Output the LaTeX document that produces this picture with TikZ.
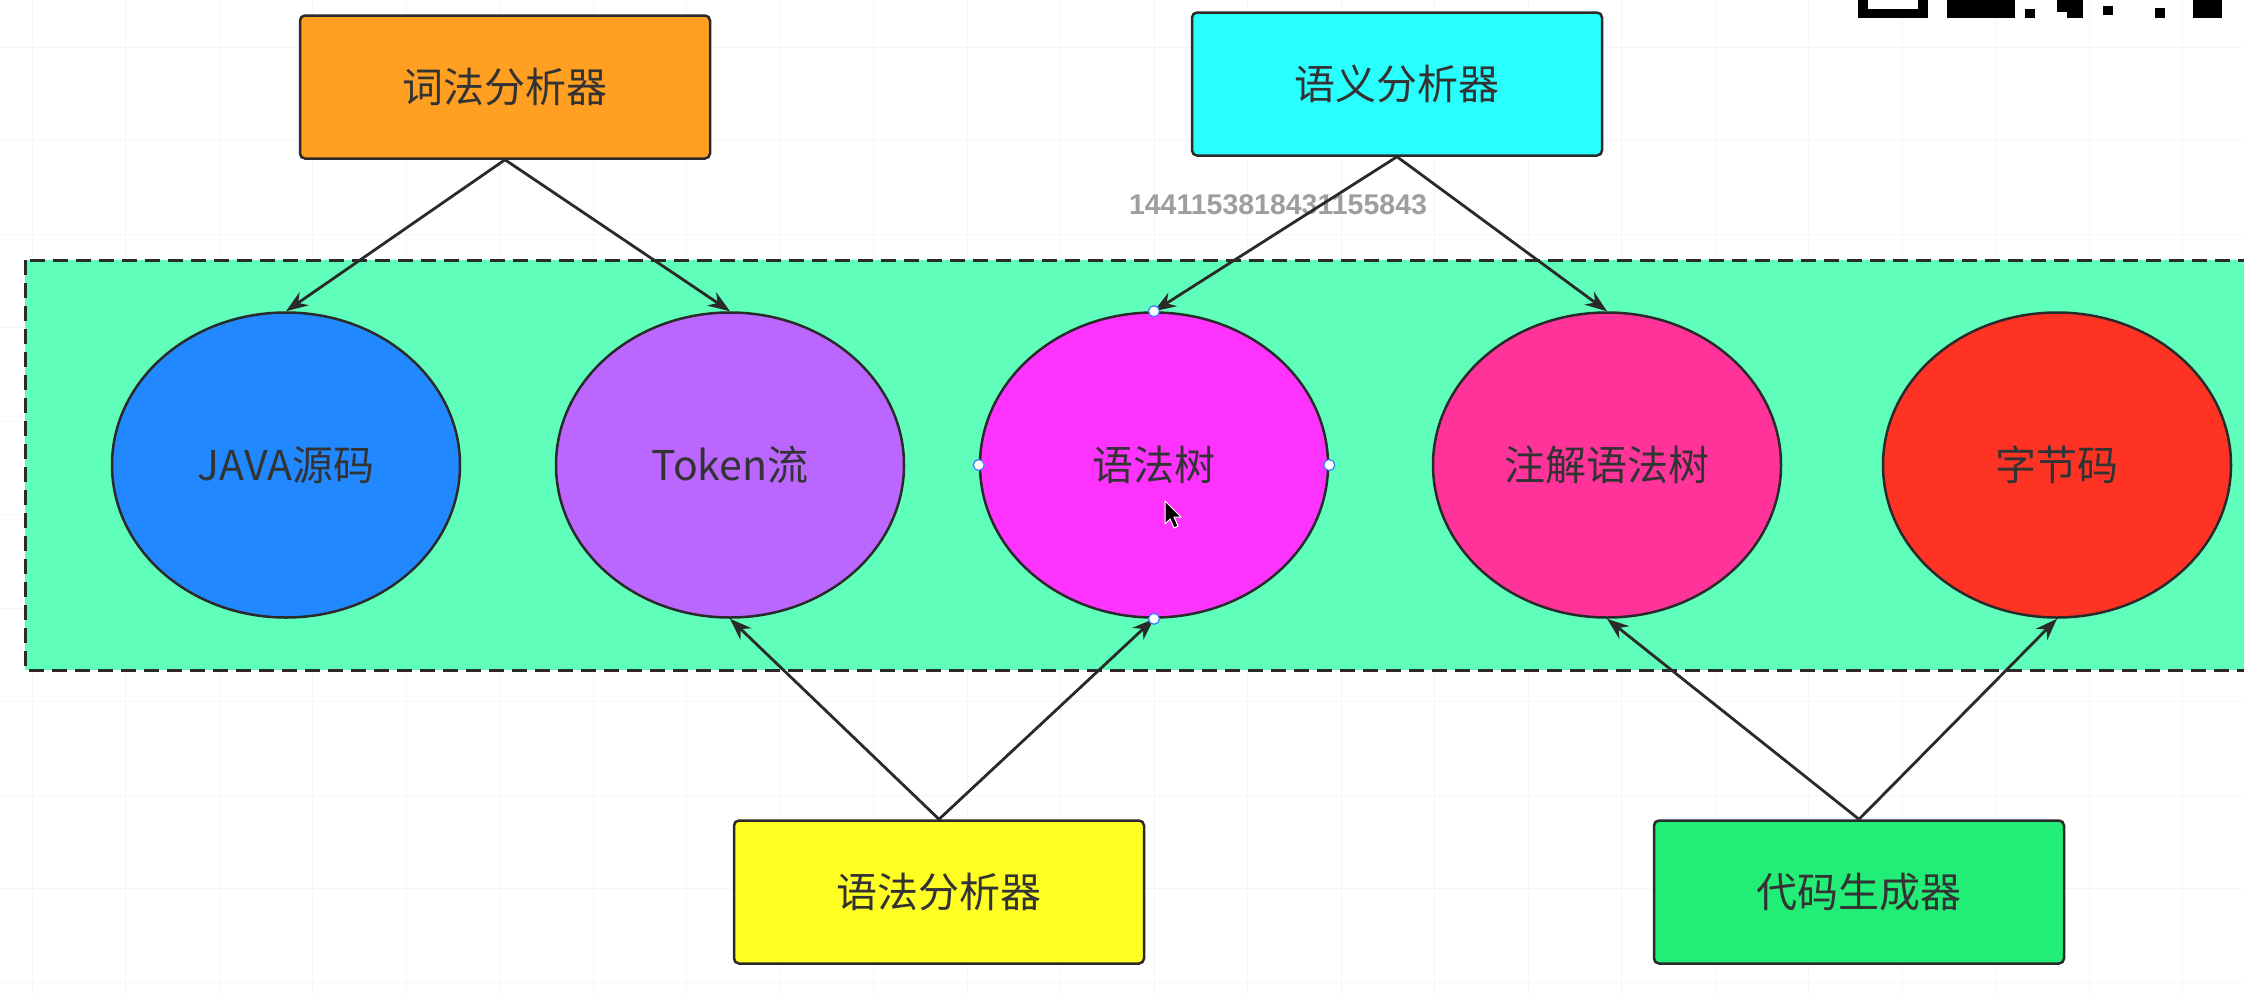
\documentclass[tikz,border=0pt]{standalone}
\usepackage{fontspec}
\newfontfamily\cjk{Noto Sans CJK SC}
\newfontfamily\numfont{Liberation Sans}
\usetikzlibrary{shapes.geometric,arrows.meta}
\definecolor{txt}{HTML}{333333}
\definecolor{cOrange}{HTML}{FFA023}
\definecolor{cCyan}{HTML}{28FFFF}
\definecolor{cYellow}{HTML}{FFFF24}
\definecolor{cGreen}{HTML}{22EE77}
\definecolor{cMint}{HTML}{5FFFBB}
\definecolor{cBlue}{HTML}{2288FF}
\definecolor{cPurple}{HTML}{BB66FF}
\definecolor{cMagenta}{HTML}{FF33FF}
\definecolor{cPink}{HTML}{FF3399}
\definecolor{cRed}{HTML}{FF3324}
\definecolor{cLine}{HTML}{2A2A2A}
\definecolor{cHandle}{HTML}{3A7BFF}
\begin{document}
\begin{tikzpicture}[x=1pt,y=-1pt,
  boxnode/.style={draw=cLine,line width=2.5pt,rounded corners=5pt,minimum width=410pt,minimum height=143pt,inner sep=0pt,font=\cjk\fontsize{41}{44}\selectfont,text=txt},
  ovalnode/.style={ellipse,draw=cLine,line width=2.5pt,minimum width=348pt,minimum height=305pt,inner sep=0pt,font=\cjk\fontsize{41}{44}\selectfont,text=txt},
  conn/.style={draw=cLine,line width=2.8pt,-{Stealth[length=22pt,width=16pt]}},
  handle/.style={circle,fill=white,draw=cHandle,line width=1.2pt,minimum size=11pt,inner sep=0pt}]
\useasboundingbox (0,0) rectangle (2244,994);
\fill[white] (0,0) rectangle (2244,994);
% faint grid
\begin{scope}[draw=black!3.5,line width=0.8pt]
\foreach \gx in {32,125,219,312,406,499,593,686,780,873,967,1060,1154,1247,1341,1434,1528,1621,1715,1808,1902,1995,2089,2182}
  \draw (\gx,0) -- (\gx,994);
\foreach \gy in {47,140,234,327,421,514,608,701,795,888,982}
  \draw (0,\gy) -- (2244,\gy);
\end{scope}
% QR code fragment
\fill[black] (1858,0) rectangle (1928,18);
\fill[white] (1868,0) rectangle (1918,9);
\fill[black] (1947,0) rectangle (2015,18);
\fill[black] (2025,9) rectangle (2035,18);
\fill[black] (2057,0) rectangle (2083,12);
\fill[black] (2067,12) rectangle (2083,18);
\fill[black] (2103,6) rectangle (2113,15);
\fill[black] (2155,8) rectangle (2165,18);
\fill[black] (2193,0) rectangle (2222,18);
% container
\draw[fill=cMint,draw=cLine,line width=3pt,dash pattern=on 15pt off 8pt] (25,260) rectangle (2270,670);
% boxes
\node[boxnode,fill=cOrange] (lex) at (505,87) {词法分析器};
\node[boxnode,fill=cCyan] (sem) at (1397,84) {语义分析器};
\node[boxnode,fill=cYellow] (syn) at (939,892) {语法分析器};
\node[boxnode,fill=cGreen] (gen) at (1859,892) {代码生成器};
% ellipses
\node[ovalnode,fill=cBlue] (java) at (286,465) {JAVA源码};
\node[ovalnode,fill=cPurple] (tok) at (730,465) {Token流};
\node[ovalnode,fill=cMagenta] (tree) at (1154,465) {语法树};
\node[ovalnode,fill=cPink] (ann) at (1607,465) {注解语法树};
\node[ovalnode,fill=cRed] (byte) at (2057,465) {字节码};
% label
\node[font=\numfont\bfseries\fontsize{28.5}{30}\selectfont,text=black!38,inner sep=0pt] (num) at (1278,205) {1441153818431155843};
% connectors
\draw[conn] (lex.south) -- (java.north);
\draw[conn] (lex.south) -- (tok.north);
\draw[conn] (sem.south) -- (tree.north);
\draw[conn] (sem.south) -- (ann.north);
\draw[conn] (syn.north) -- (tok.south);
\draw[conn] (syn.north) -- (tree.south);
\draw[conn] (gen.north) -- (ann.south);
\draw[conn] (gen.north) -- (byte.south);
% selection handles
\node[handle] (h1) at (tree.north) {};
\node[handle] (h2) at (tree.south) {};
\node[handle] (h3) at (tree.west) {};
\node[handle] (h4) at (tree.east) {};
% cursor
\fill[black,draw=white,line width=1pt] (1165,501) -- (1165,524) -- (1170,519) -- (1174,528) -- (1178,526) -- (1174,517) -- (1181,517) -- cycle;
\end{tikzpicture}
\end{document}
